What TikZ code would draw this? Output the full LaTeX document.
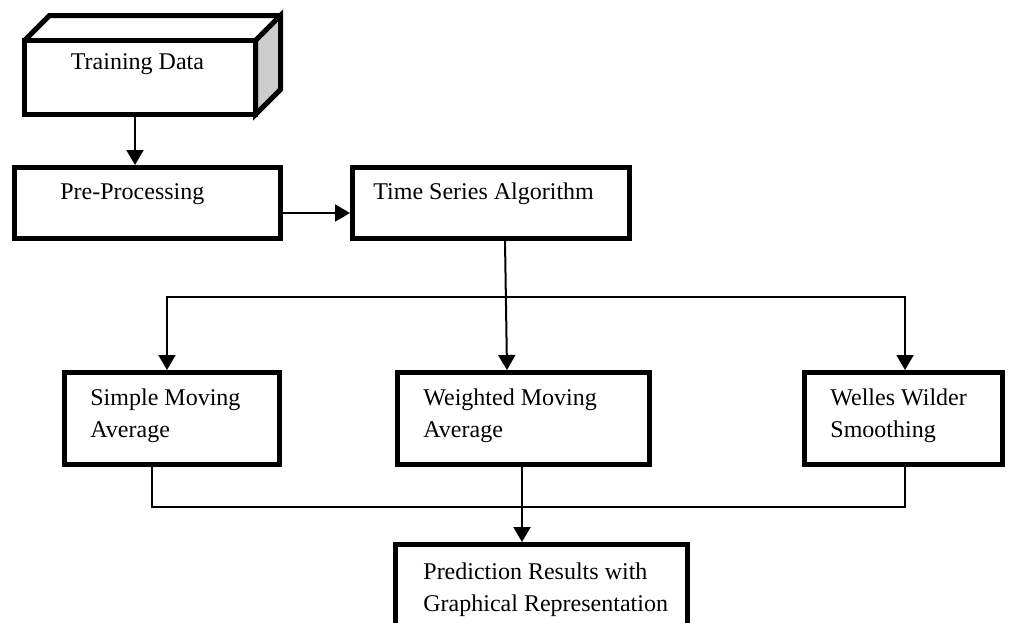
\documentclass[tikz,border=0pt]{standalone}
\usepackage{fontspec}
\setmainfont{Liberation Serif}
\usetikzlibrary{arrows.meta}

\begin{document}
\begin{tikzpicture}[x=0.5pt, y=-0.5pt,
    box/.style={draw, line width=2.5pt, inner sep=0pt},
    txt/.style={anchor=north west, inner sep=0pt, align=left, font=\fontsize{12}{16}\selectfont},
    arrow/.style={line width=1pt, -{Triangle[length=7.5pt,width=8.5pt]}},
    link/.style={line width=0.7pt}]
  \useasboundingbox (0,0) rectangle (1010,622);

  \node[box, outer sep=0pt, minimum width=115.5pt, minimum height=37pt] (train) at (140,77.5) {};
  \filldraw[fill=black!20, line width=2.5pt] (train.north east) -- ++(12.5pt,12.5pt) coordinate (back)
        -- ++(0,-37pt) -- (train.south east) -- cycle;
  \draw[line width=2.5pt] (train.north west) -- ++(12.5pt,12.5pt) -- (back);
  \node[box, minimum width=133pt, minimum height=35.5pt] (pre) at (147.5,203) {};
  \node[box, minimum width=138.5pt, minimum height=35.5pt] (tsa) at (491,203) {};
  \node[box, minimum width=107.5pt, minimum height=46pt] (sma) at (172,418.5) {};
  \node[box, minimum width=126pt, minimum height=46pt] (wma) at (523.5,418.5) {};
  \node[box, minimum width=99pt, minimum height=46pt] (wws) at (903.5,418.5) {};
  \node[box, minimum width=146pt, minimum height=50.5pt] (pred) at (541.5,595) {};

  \node[txt] (train-t) at ([shift={(23pt,-6.5pt)}]train.north west) {Training Data};
  \node[txt] (pre-t) at ([shift={(24pt,-9pt)}]pre.north west) {Pre-Processing};
  \node[txt] (tsa-t) at ([shift={(11.5pt,-8.5pt)}]tsa.north west) {Time Series Algorithm};
  \node[txt] (sma-t) at ([shift={(14pt,-9pt)}]sma.north west) {Simple Moving\\Average};
  \node[txt] (wma-t) at ([shift={(14pt,-9pt)}]wma.north west) {Weighted Moving\\Average};
  \node[txt] (wws-t) at ([shift={(14pt,-9pt)}]wws.north west) {Welles Wilder\\Smoothing};
  \node[txt] (pred-t) at ([shift={(15pt,-10pt)}]pred.north west) {Prediction Results with\\Graphical Representation};

  \coordinate (fork) at (506,297);
  \coordinate (join) at (522,507);
  \draw[arrow] ([xshift=-2.5pt]train.south) -- ([xshift=-2.5pt]train.south |- pre.north);
  \draw[arrow] ([yshift=-5pt]pre.east) -- ([yshift=-5pt]pre.east -| tsa.west);
  \draw[arrow] ([xshift=7pt]tsa.south) -- ([xshift=-8.25pt]wma.north);
  \draw[arrow] (fork) -| ([xshift=-2.5pt]sma.north);
  \draw[arrow] (fork) -| ([xshift=0.75pt]wws.north);
  \draw[link] ([xshift=-10pt]sma.south) |- (join) -| ([xshift=0.75pt]wws.south);
  \draw[arrow] ([xshift=-0.75pt]wma.south) -- ([xshift=-0.75pt]wma.south |- pred.north);
\end{tikzpicture}
\end{document}
